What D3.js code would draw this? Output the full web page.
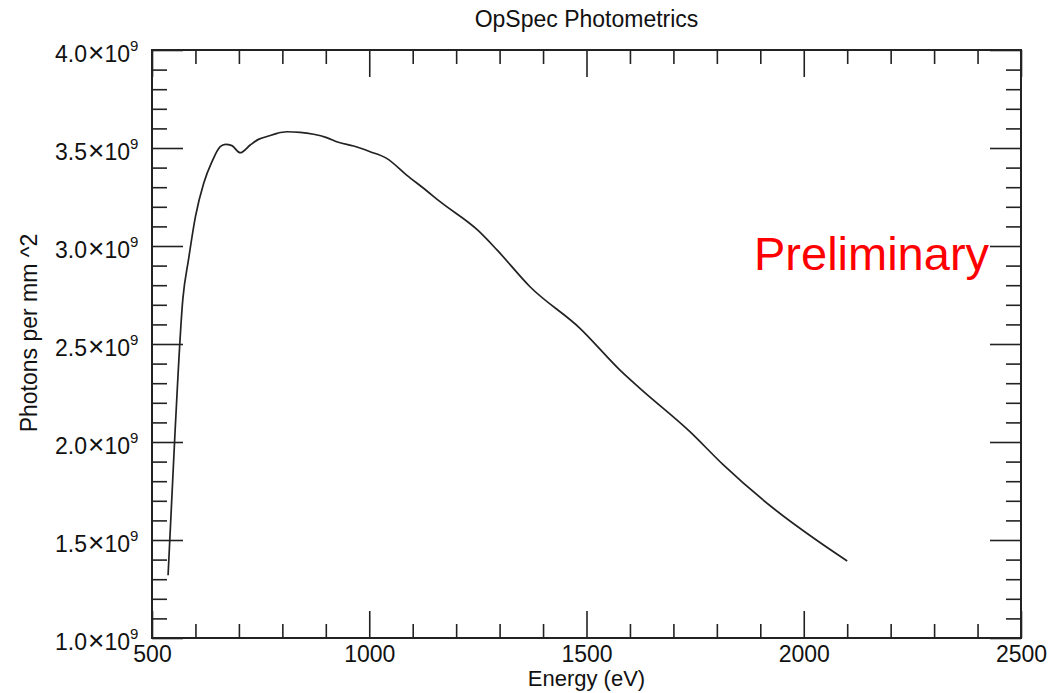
<!DOCTYPE html>
<html>
<head>
<meta charset="utf-8">
<script src="https://cdn.jsdelivr.net/npm/d3@7"></script>
<style>
  body { margin: 0; background: #fff; }
  svg { display: block; font-family: "Liberation Sans", Arial, Helvetica, sans-serif; }
</style>
</head>
<body>
<div class="container"></div>
<script>
// energy in eV, photons per mm^2 in units of 1e9
var energy = [537, 553, 571, 584, 600, 619, 638, 657, 669, 684, 703, 726, 745, 768, 788, 810, 841, 872,
    902, 929, 964, 1002, 1040, 1086, 1132, 1163, 1251, 1294, 1370, 1485, 1577, 1623, 1738, 1815, 1930, 2029, 2100];
var photons = [1.32, 2.05, 2.73, 2.93, 3.15, 3.32, 3.43, 3.507, 3.519, 3.512, 3.476, 3.515, 3.544, 3.561, 3.575, 3.583, 3.58, 3.57,
    3.553, 3.529, 3.51, 3.481, 3.447, 3.362, 3.282, 3.226, 3.078, 2.98, 2.792, 2.58, 2.367, 2.274, 2.053, 1.883, 1.662, 1.5, 1.393];

var xMajor = [500, 1000, 1500, 2000, 2500];
var yMajor = [1.0, 1.5, 2.0, 2.5, 3.0, 3.5, 4.0];
var yLabels = ["1.0", "1.5", "2.0", "2.5", "3.0", "3.5", "4.0"];

var WIDTH = 1048, HEIGHT = 693;
var plot = { left: 152, right: 1021, top: 50, bottom: 638 };
var INK = "#222";

var svg = d3.select(".container")
    .append("svg")
    .attr("width", WIDTH)
    .attr("height", HEIGHT);

var x = d3.scaleLinear().domain([500, 2500]).range([plot.left, plot.right]);
var y = d3.scaleLinear().domain([1.0, 4.0]).range([plot.bottom, plot.top]);

var xMinor = d3.range(500, 2501, 100).filter(d => d % 500 !== 0);
var yMinor = d3.range(10, 41, 1).map(d => d / 10).filter(d => Math.round(d * 10) % 5 !== 0);

function styleAxis(g) {
    g.select(".domain").remove();
    g.selectAll(".tick line").attr("stroke", INK).attr("stroke-width", 1.6);
}

// bottom axis
svg.append("g")
    .attr("transform", `translate(0, ${plot.bottom})`)
    .call(d3.axisBottom(x).tickValues(xMajor).tickSize(-27).tickPadding(8).tickFormat(d3.format("d")))
    .call(styleAxis)
    .call(g => g.selectAll("text").attr("fill", "#111").style("font-size", "23px").attr("font-family", null));
svg.append("g")
    .attr("transform", `translate(0, ${plot.bottom})`)
    .call(d3.axisBottom(x).tickValues(xMinor).tickSize(-14).tickFormat(""))
    .call(styleAxis);

// top axis
svg.append("g")
    .attr("transform", `translate(0, ${plot.top})`)
    .call(d3.axisTop(x).tickValues(xMajor).tickSize(-27).tickFormat(""))
    .call(styleAxis);
svg.append("g")
    .attr("transform", `translate(0, ${plot.top})`)
    .call(d3.axisTop(x).tickValues(xMinor).tickSize(-14).tickFormat(""))
    .call(styleAxis);

// left axis
svg.append("g")
    .attr("transform", `translate(${plot.left}, 0)`)
    .call(d3.axisLeft(y).tickValues(yMajor).tickSize(-31).tickFormat(""))
    .call(styleAxis);
svg.append("g")
    .attr("transform", `translate(${plot.left}, 0)`)
    .call(d3.axisLeft(y).tickValues(yMinor).tickSize(-15).tickFormat(""))
    .call(styleAxis);

// right axis
svg.append("g")
    .attr("transform", `translate(${plot.right}, 0)`)
    .call(d3.axisRight(y).tickValues(yMajor).tickSize(-31).tickFormat(""))
    .call(styleAxis);
svg.append("g")
    .attr("transform", `translate(${plot.right}, 0)`)
    .call(d3.axisRight(y).tickValues(yMinor).tickSize(-15).tickFormat(""))
    .call(styleAxis);

// y tick labels with superscript exponent
var yLab = svg.append("g");
var mant = yLab.selectAll("text.mant")
    .data(yMajor)
    .enter()
    .append("text")
    .attr("class", "mant")
    .attr("x", 130)
    .attr("y", d => y(d) + 12)
    .attr("text-anchor", "end")
    .attr("fill", "#111")
    .style("font-size", "23px");
mant.append("tspan").text((d, i) => yLabels[i]);
mant.append("tspan").style("font-size", "28px").attr("dx", 1).text("\u00d7");
mant.append("tspan").text("10");
yLab.selectAll("text.exp")
    .data(yMajor)
    .enter()
    .append("text")
    .attr("class", "exp")
    .attr("x", 130)
    .attr("y", d => y(d) + 1)
    .attr("fill", "#111")
    .style("font-size", "15px")
    .text("9");

// frame
svg.append("rect")
    .attr("x", plot.left)
    .attr("y", plot.top)
    .attr("width", plot.right - plot.left)
    .attr("height", plot.bottom - plot.top)
    .attr("fill", "none")
    .attr("stroke", INK)
    .attr("stroke-width", 2);

// curve
var line = d3.line()
    .x((d, i) => x(energy[i]))
    .y((d, i) => y(photons[i]))
    .curve(d3.curveMonotoneX);

svg.append("path")
    .datum(energy)
    .attr("d", line)
    .attr("fill", "none")
    .attr("stroke", INK)
    .attr("stroke-width", 1.7)
    .attr("stroke-linejoin", "round");

// titles
svg.append("text")
    .attr("x", (plot.left + plot.right) / 2)
    .attr("y", 27)
    .attr("text-anchor", "middle")
    .attr("fill", "#111")
    .style("font-size", "23px")
    .text("OpSpec Photometrics");

svg.append("text")
    .attr("x", (plot.left + plot.right) / 2)
    .attr("y", 686)
    .attr("text-anchor", "middle")
    .attr("fill", "#111")
    .style("font-size", "22px")
    .text("Energy (eV)");

svg.append("text")
    .attr("transform", "translate(37, 333) rotate(-90)")
    .attr("text-anchor", "middle")
    .attr("fill", "#111")
    .style("font-size", "23px")
    .text("Photons per mm ^2");

svg.append("text")
    .attr("x", 754)
    .attr("y", 270)
    .attr("fill", "#ff0000")
    .style("font-size", "47px")
    .text("Preliminary");
</script>
</body>
</html>
